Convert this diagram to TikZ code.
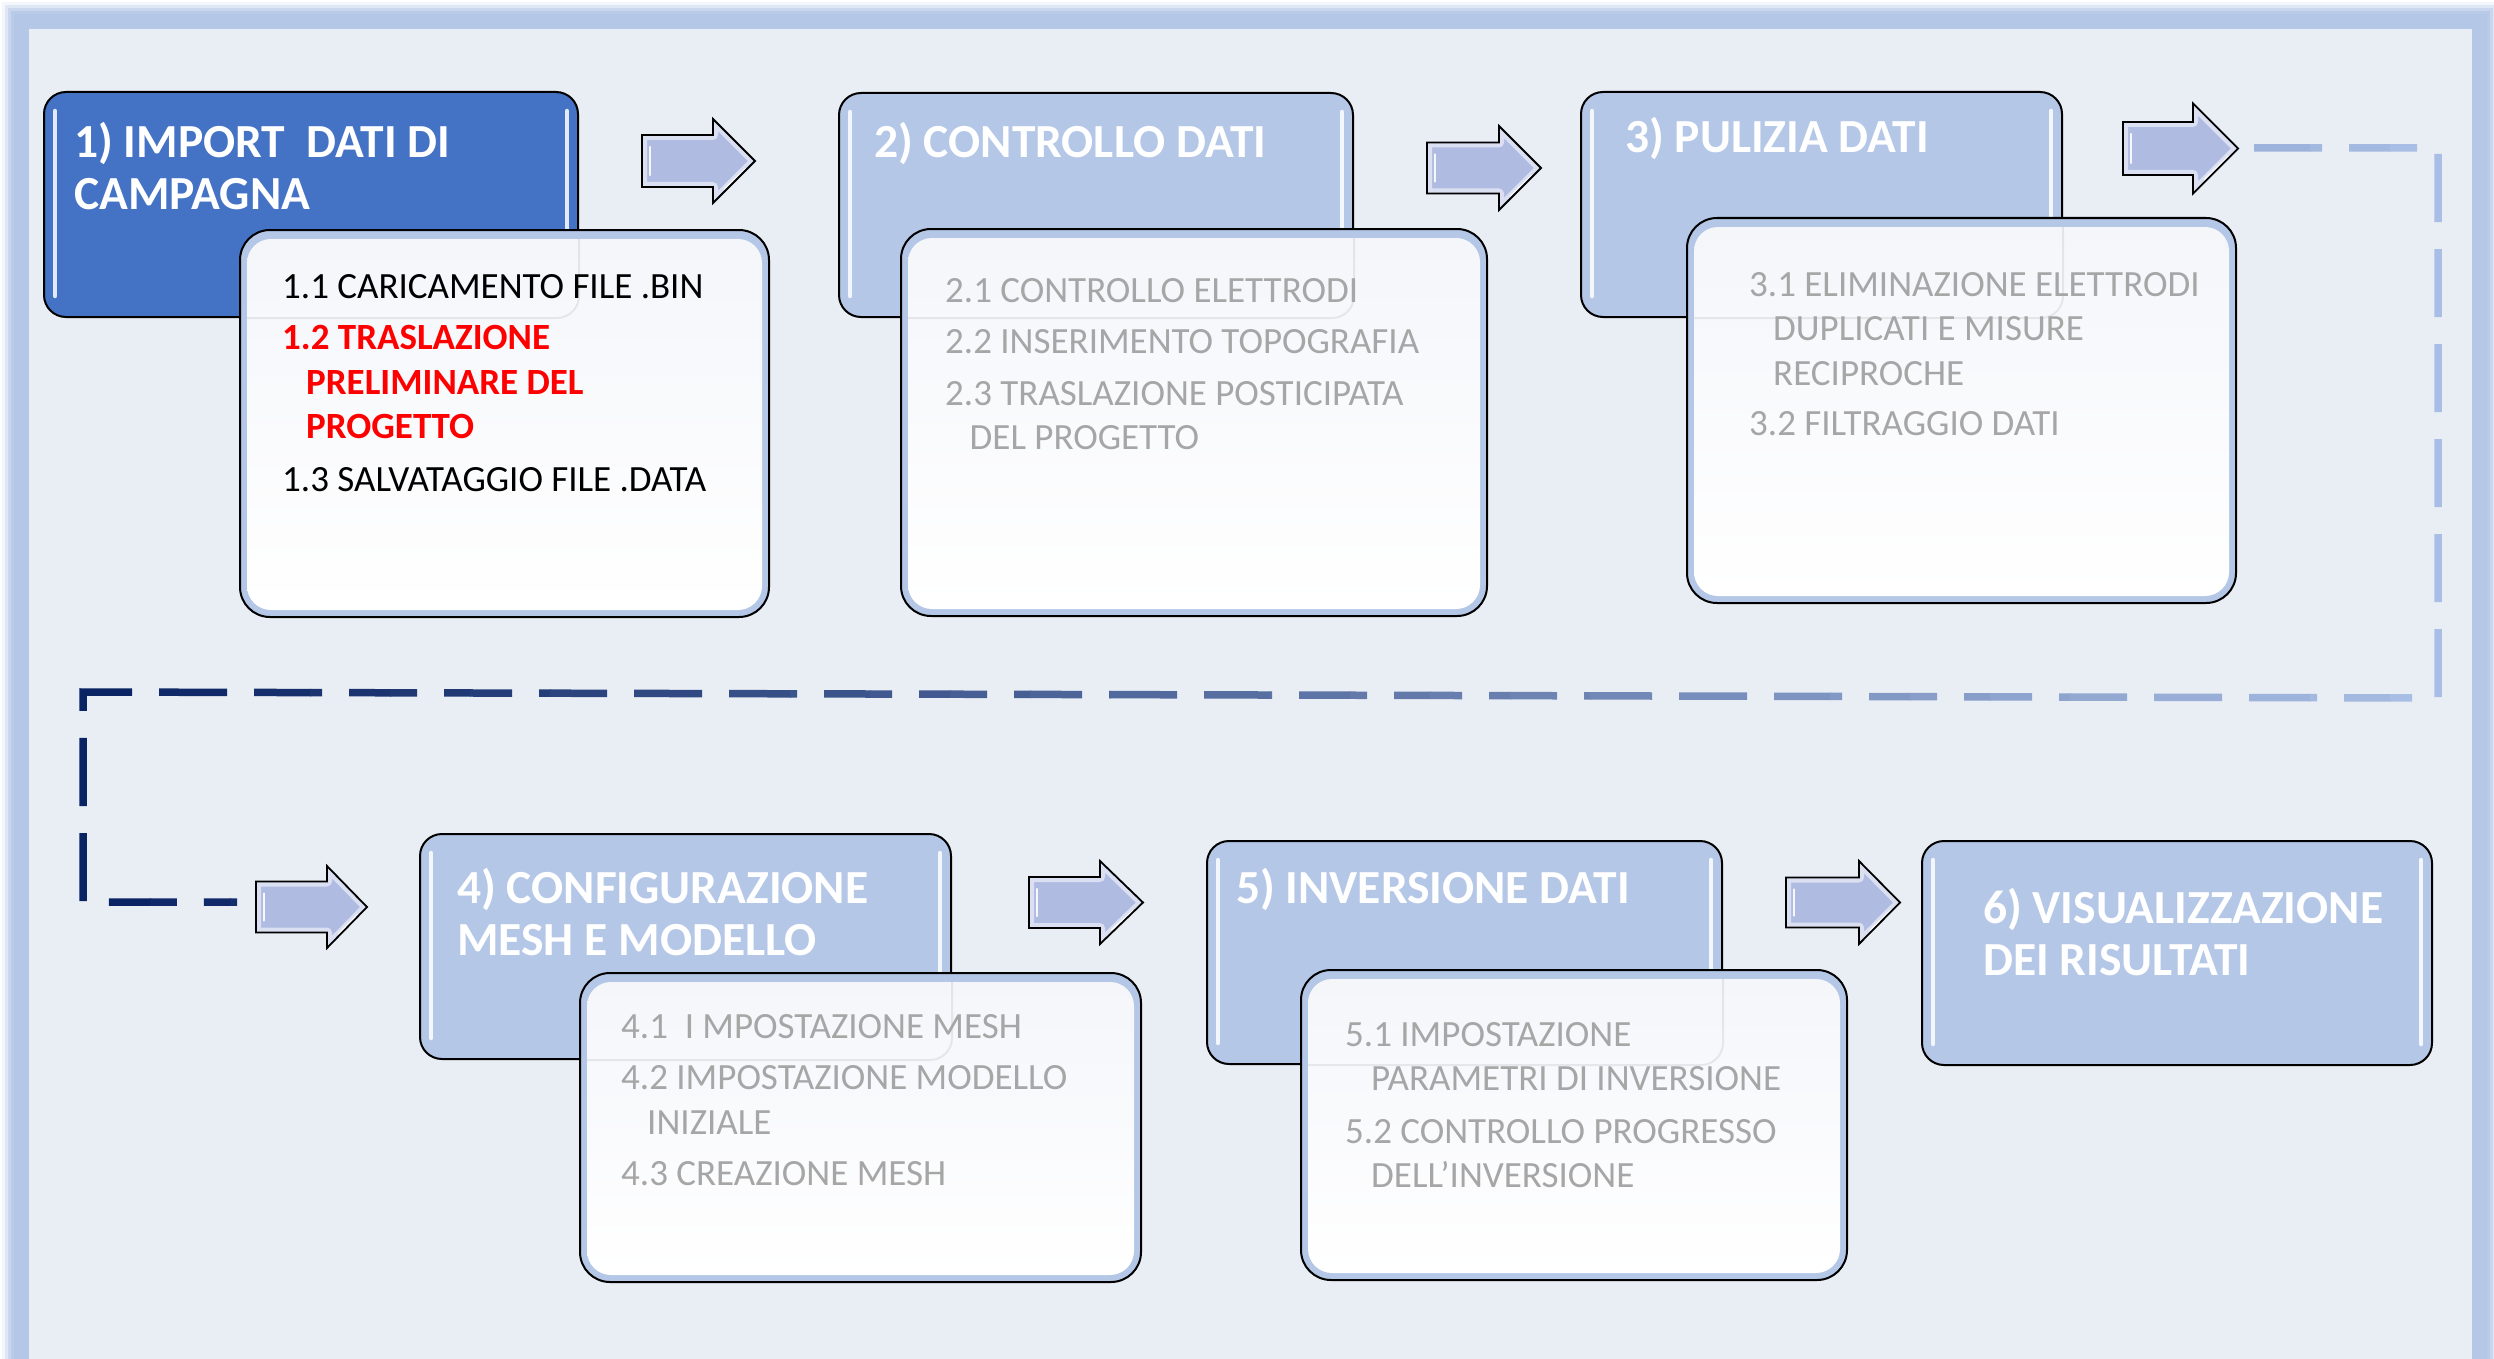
\documentclass[tikz,border=0pt]{standalone}
\usepackage{fontspec}
\setmainfont{Carlito}
\usetikzlibrary{calc}

\definecolor{pagebg}{HTML}{E9EDF4}
\definecolor{frameblue}{HTML}{B4C7E7}
\definecolor{hdrdark}{HTML}{4472C4}
\definecolor{hdrlight}{HTML}{B4C7E7}
\definecolor{itemgrey}{HTML}{A6A6A6}
\definecolor{itemred}{HTML}{FF0000}
\definecolor{arrowfill}{HTML}{AFBBE1}
\definecolor{subwhite}{HTML}{F7F8FB}
\definecolor{dashnavy}{HTML}{0A2463}
\definecolor{dashlight}{HTML}{A9BEE4}

% block arrow: #1 left x, #2 head base x, #3 tip x, #4 centre y, #5 shaft half height, #6 head half height
\newcommand\blockarrow[6]{%
  \path[fill=arrowfill] (#1,{#4-#5}) -- (#2,{#4-#5}) -- (#2,{#4-#6}) -- (#3,#4) -- (#2,{#4+#6}) -- (#2,{#4+#5}) -- (#1,{#4+#5}) -- cycle;
  \begin{scope}
    \clip (#1,{#4-#5}) -- (#2,{#4-#5}) -- (#2,{#4-#6}) -- (#3,#4) -- (#2,{#4+#6}) -- (#2,{#4+#5}) -- (#1,{#4+#5}) -- cycle;
    \draw[white, opacity=.55, line width=10pt, line join=round]
      (#1,{#4-#5}) -- (#2,{#4-#5}) -- (#2,{#4-#6}) -- (#3,#4) -- (#2,{#4+#6}) -- (#2,{#4+#5}) -- (#1,{#4+#5}) -- cycle;
  \end{scope}
  \draw[white, line width=2.5pt, opacity=.9, line cap=round] ({#1+8},{#4-#5+12}) -- ({#1+8},{#4+#5-12});
  \draw[white, line width=2.5pt, opacity=.9, line cap=round] ({#3-9},{#4+8}) -- ({#2+12},{#4+#6-14});
  \draw[black, line width=1.8pt, line join=miter]
    (#1,{#4-#5}) -- (#2,{#4-#5}) -- (#2,{#4-#6}) -- (#3,#4) -- (#2,{#4+#6}) -- (#2,{#4+#5}) -- (#1,{#4+#5}) -- cycle;
}

\begin{document}
\begin{tikzpicture}[x=1pt, y=-1pt,
  hdrbox/.style={draw=black, line width=2pt, rounded corners=22pt, fill=hdrlight,
    anchor=north west, inner sep=0pt},
  subbox/.style={draw=black, line width=2pt, rounded corners=30pt, fill=frameblue,
    anchor=north west, inner sep=0pt},
  hdrtxt/.style={anchor=base west, inner sep=0pt, text=white,
    font=\bfseries\fontsize{47.5}{52}\selectfont},
  itemtxt/.style={anchor=base west, inner sep=0pt, text=itemgrey,
    font=\fontsize{37}{44.6}\selectfont},
  gloss/.style={white, line width=4.5pt, opacity=.85, line cap=round},
]
\useasboundingbox (0,0) rectangle (2494,1359);
\clip (0,0) rectangle (2494,1359);

% ---------- page frame with soft outer edge ----------
\fill[white] (0,0) rectangle (2494,1359);
\foreach \d/\o in {15/0.15, 12/0.3, 9/0.5, 6/0.7, 3/0.9, 0/1}
  \fill[frameblue, opacity=\o] ({17-\d},{17-\d}) rectangle ({2484+\d},1400);
\fill[pagebg] (29,29) rectangle (2472,1400);

% ---------- header boxes ----------
\node[hdrbox, fill=hdrdark, minimum width=534pt, minimum height=225pt] (h1) at (43,91) {};
\node[hdrbox, minimum width=514pt, minimum height=224pt] (h2) at (838,92) {};
\node[hdrbox, minimum width=481pt, minimum height=225pt] (h3) at (1580,91) {};
\node[hdrbox, minimum width=531pt, minimum height=225pt] (h4) at (419,833) {};
\node[hdrbox, minimum width=515pt, minimum height=223pt] (h5) at (1206,840) {};
\node[hdrbox, minimum width=510pt, minimum height=224pt] (h6) at (1921,840) {};

% glossy highlights on the header edges
\foreach \h in {h1,h2,h3,h4,h5,h6}{
  \draw[gloss] ($(\h.north west)+(12,20)$) -- ($(\h.south west)+(12,-22)$);
  \draw[gloss] ($(\h.north east)+(-12,20)$) -- ($(\h.south east)+(-12,-22)$);
}

% header titles
\node[hdrtxt] (h1t) at (74,157.5) {\parbox[t]{480pt}{1) IMPORT\ \ DATI DI\\CAMPAGNA}};
\node[hdrtxt] (h2t) at (874,158) {2) CONTROLLO DATI};
\node[hdrtxt] (h3t) at (1625,153) {3) PULIZIA DATI};
\node[hdrtxt] (h4t) at (457,903) {\parbox[t]{480pt}{4) CONFIGURAZIONE\\MESH E MODELLO}};
\node[hdrtxt] (h5t) at (1236,903) {5) INVERSIONE DATI};
\node[hdrtxt] (h6t) at (1983,923) {\parbox[t]{440pt}{6) VISUALIZZAZIONE\\DEI RISULTATI}};

% ---------- detail boxes ----------
\node[subbox, minimum width=529pt, minimum height=387pt] (s1) at (239,229) {};
\node[subbox, minimum width=586pt, minimum height=387pt] (s2) at (900,228) {};
\node[subbox, minimum width=549pt, minimum height=385pt] (s3) at (1686,217) {};
\node[subbox, minimum width=561pt, minimum height=309pt] (s4) at (579,972) {};
\node[subbox, minimum width=546pt, minimum height=310pt] (s5) at (1300,969) {};

\foreach \s in {s1,s2,s3,s4,s5}{
  \shade[top color=subwhite!96!frameblue, bottom color=white, rounded corners=24pt]
    ($(\s.north west)+(8,10)$) rectangle ($(\s.south east)+(-8,-8)$);
}

% header outlines faintly visible through the detail boxes
\foreach \h/\s in {h1/s1,h2/s2,h3/s3,h4/s4,h5/s5}{
  \begin{scope}
    \clip ($(\s.north west)+(8,10)$) rectangle ($(\s.south east)+(-8,-8)$);
    \draw[black, opacity=.07, line width=2pt, rounded corners=22pt] (\h.north west) rectangle (\h.south east);
  \end{scope}
}

% detail texts
\node[itemtxt, text=black] (t1) at (282,298.5) {\parbox[t]{470pt}{%
  1.1 CARICAMENTO FILE .BIN\\[6.5pt]
  {\color{itemred}\bfseries 1.2 TRASLAZIONE\\
  \hspace*{24pt}PRELIMINARE DEL\\
  \hspace*{24pt}PROGETTO}\\[7.8pt]
  1.3 SALVATAGGIO FILE .DATA}};

\node[itemtxt] (t2) at (945,302) {\parbox[t]{530pt}{%
  2.1 CONTROLLO ELETTRODI\\[6.5pt]
  2.2 INSERIMENTO TOPOGRAFIA\\[7.4pt]
  2.3 TRASLAZIONE POSTICIPATA\\
  \hspace*{24.5pt}DEL PROGETTO}};

\node[itemtxt] (t3) at (1749,296) {\parbox[t]{480pt}{%
  3.1 ELIMINAZIONE ELETTRODI\\
  \hspace*{24pt}DUPLICATI E MISURE\\
  \hspace*{24pt}RECIPROCHE\\[6pt]
  3.2 FILTRAGGIO DATI}};

\node[itemtxt] (t4) at (621,1038) {\parbox[t]{500pt}{%
  4.1\ \ I MPOSTAZIONE MESH\\[7pt]
  4.2 IMPOSTAZIONE MODELLO\\
  \hspace*{26pt}INIZIALE\\[7pt]
  4.3 CREAZIONE MESH}};

\node[itemtxt] (t5) at (1345,1046) {\parbox[t]{490pt}{%
  5.1 IMPOSTAZIONE\\
  \hspace*{26pt}PARAMETRI DI INVERSIONE\\[7.9pt]
  5.2 CONTROLLO PROGRESSO\\
  \hspace*{26pt}DELL’INVERSIONE}};

% ---------- block arrows between the steps ----------
\blockarrow{642}{713}{755}{161}{26}{42}
\blockarrow{1427}{1499}{1541}{168}{25.5}{42}
\blockarrow{2123}{2193}{2238}{148.5}{26.5}{45}
\blockarrow{256}{327}{367}{907}{25.5}{41}
\blockarrow{1029}{1100}{1143}{902.5}{25.5}{41.5}
\blockarrow{1786}{1859}{1900}{902.5}{25}{41.5}

% ---------- dashed return line, navy on the left fading to light blue ----------
\coordinate (d0) at (2254,148);
\coordinate (d1) at (2438,148);
\coordinate (d2) at (2438,698);
\coordinate (d3) at (83,692);
\coordinate (d4) at (83,902);
\coordinate (d5) at (237,902);
\foreach \k in {0,...,29}{
  \pgfmathsetmacro\p{100-\k*100/29}
  \pgfmathsetmacro\xa{70+\k*80}
  \colorlet{dashcol}{dashnavy!\p!dashlight}
  \begin{scope}
    \clip (\xa,0) rectangle ({\xa+81},1359);
    \draw[dashcol, line width=7.5pt, dash pattern=on 68pt off 27pt]
      (d0) -- (d1) -- (d2) -- (d3) -- (d4) -- (d5);
  \end{scope}
}
\end{tikzpicture}
\end{document}
